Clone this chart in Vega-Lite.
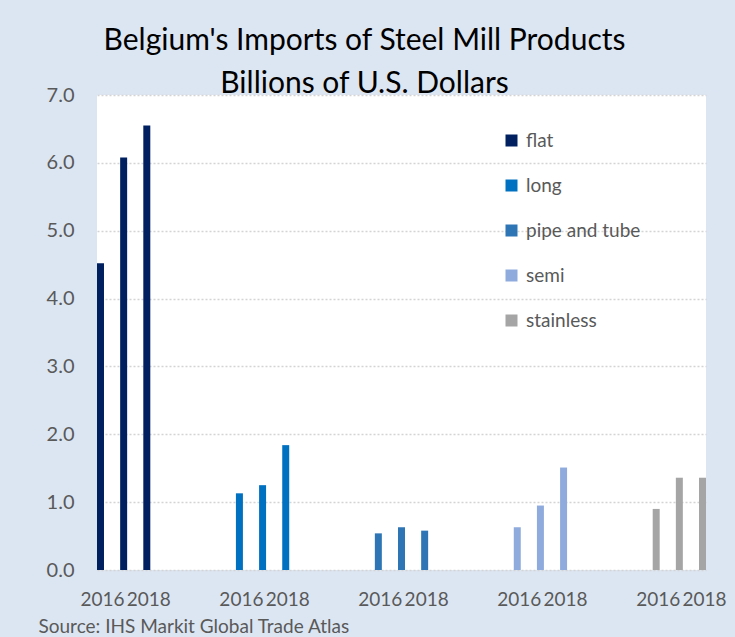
{
  "$schema": "https://vega.github.io/schema/vega-lite/v6.json",
  "autosize": {"type": "none"},
  "padding": {"left": 97, "top": 95, "right": 29, "bottom": 67},
  "width": 609,
  "height": 475,
  "background": "#dce6f2",
  "title": {
    "text": ["Belgium's Imports of Steel Mill Products", "Billions of U.S. Dollars"],
    "font": "Lato",
    "fontSize": 30,
    "fontWeight": "normal",
    "color": "#000000",
    "lineHeight": 43,
    "anchor": "middle",
    "dx": -37,
    "offset": -14
  },
  "data": {
    "values": [
      {"product": "flat", "year": "2016", "bar": "flat 2016", "value": 4.52},
      {"product": "flat", "year": "2017", "bar": "flat 2017", "value": 6.08},
      {"product": "flat", "year": "2018", "bar": "flat 2018", "value": 6.55},
      {"product": "long", "year": "2016", "bar": "long 2016", "value": 1.13},
      {"product": "long", "year": "2017", "bar": "long 2017", "value": 1.25},
      {"product": "long", "year": "2018", "bar": "long 2018", "value": 1.84},
      {"product": "pipe and tube", "year": "2016", "bar": "pipe and tube 2016", "value": 0.54},
      {"product": "pipe and tube", "year": "2017", "bar": "pipe and tube 2017", "value": 0.63},
      {"product": "pipe and tube", "year": "2018", "bar": "pipe and tube 2018", "value": 0.58},
      {"product": "semi", "year": "2016", "bar": "semi 2016", "value": 0.63},
      {"product": "semi", "year": "2017", "bar": "semi 2017", "value": 0.95},
      {"product": "semi", "year": "2018", "bar": "semi 2018", "value": 1.51},
      {"product": "stainless", "year": "2016", "bar": "stainless 2016", "value": 0.90},
      {"product": "stainless", "year": "2017", "bar": "stainless 2017", "value": 1.36},
      {"product": "stainless", "year": "2018", "bar": "stainless 2018", "value": 1.36}
    ]
  },
  "mark": {"type": "bar"},
  "encoding": {
    "x": {
      "field": "bar",
      "type": "nominal",
      "sort": null,
      "scale": {
        "domain": [
          "flat 2016", "flat 2017", "flat 2018", "gap a1", "gap a2", "gap a3",
          "long 2016", "long 2017", "long 2018", "gap b1", "gap b2", "gap b3",
          "pipe and tube 2016", "pipe and tube 2017", "pipe and tube 2018", "gap c1", "gap c2", "gap c3",
          "semi 2016", "semi 2017", "semi 2018", "gap d1", "gap d2", "gap d3",
          "stainless 2016", "stainless 2017", "stainless 2018"
        ],
        "paddingInner": 0.698,
        "paddingOuter": 0
      },
      "axis": {
        "labelExpr": "indexof(datum.value,'2016')>=0 ? '2016' : (indexof(datum.value,'2018')>=0 ? '2018' : '')",
        "labelAngle": 0,
        "labelOverlap": false,
        "labelBound": false,
        "labelFont": "Lato",
        "labelFontSize": 19,
        "labelColor": "#595959",
        "labelPadding": 20,
        "labelOffset": 2,
        "domain": false,
        "ticks": false,
        "grid": false,
        "title": "Source: IHS Markit Global Trade Atlas",
        "titleFont": "Lato",
        "titleFontSize": 19,
        "titleFontWeight": "normal",
        "titleColor": "#595959",
        "titleAnchor": "start",
        "titleAlign": "left",
        "titleBaseline": "alphabetic",
        "titleX": -59,
        "titleY": 62
      }
    },
    "y": {
      "field": "value",
      "type": "quantitative",
      "scale": {"domain": [0, 7], "nice": false},
      "axis": {
        "values": [0, 1, 2, 3, 4, 5, 6, 7],
        "format": ".1f",
        "title": null,
        "domain": false,
        "ticks": false,
        "labelFont": "Lato",
        "labelFontSize": 20,
        "labelColor": "#595959",
        "labelPadding": 23,
        "grid": true,
        "gridColor": "#d4d4d4",
        "gridDash": [2, 2],
        "gridWidth": 1.5
      }
    },
    "color": {
      "field": "product",
      "type": "nominal",
      "scale": {
        "domain": ["flat", "long", "pipe and tube", "semi", "stainless"],
        "range": ["#002060", "#0070c0", "#2e75b6", "#8faadc", "#a5a5a5"]
      },
      "legend": {
        "orient": "none",
        "legendX": 405,
        "legendY": 36,
        "title": null,
        "padding": 0,
        "symbolType": "square",
        "symbolSize": 144,
        "symbolStrokeWidth": 0,
        "labelFont": "Lato",
        "labelFontSize": 19,
        "labelColor": "#595959",
        "labelOffset": 5,
        "rowPadding": 25
      }
    }
  },
  "config": {
    "view": {"fill": "white", "stroke": null},
    "font": "Lato"
  }
}
